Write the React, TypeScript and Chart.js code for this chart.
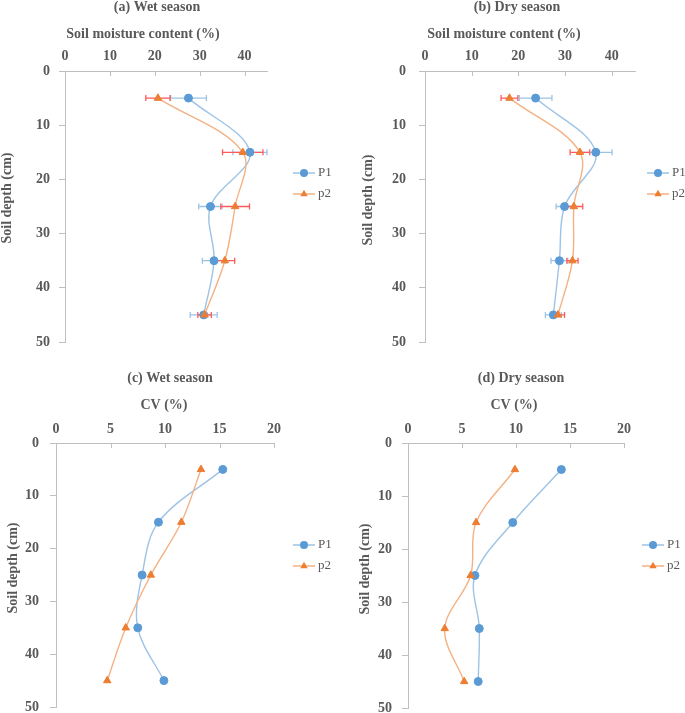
import React, { useEffect, useRef } from "react";
import { Chart, registerables } from "chart.js";
Chart.register(...registerables);

// ---------- data ----------
const depths = [5, 15, 25, 35, 45];
const seriesLabels = ["P1", "p2"];

const wetMoistureP1 = [27.5, 41.2, 32.4, 33.2, 30.9];
const wetMoistureP1Err = [4.0, 3.8, 2.6, 2.6, 3.0];
const wetMoistureP2 = [20.7, 39.6, 37.9, 35.6, 31.1];
const wetMoistureP2Err = [2.7, 4.5, 3.2, 2.2, 1.5];

const dryMoistureP1 = [23.7, 36.6, 29.9, 28.8, 27.5];
const dryMoistureP1Err = [3.5, 3.5, 1.8, 1.8, 1.7];
const dryMoistureP2 = [18.1, 33.2, 31.9, 31.6, 28.5];
const dryMoistureP2Err = [1.8, 2.1, 1.9, 1.2, 1.4];

const wetCvP1 = [15.3, 9.4, 7.9, 7.5, 9.9];
const wetCvP2 = [13.3, 11.5, 8.7, 6.4, 4.7];
const dryCvP1 = [14.2, 9.7, 6.2, 6.6, 6.5];
const dryCvP2 = [9.9, 6.3, 5.8, 3.4, 5.2];

const moistureTicks = [0, 10, 20, 30, 40];
const cvTicks = [0, 5, 10, 15, 20];
const depthTicks = [0, 10, 20, 30, 40, 50];

// ---------- styles ----------
const FONT = '"Liberation Serif", "Times New Roman", serif';
const TEXT = "#595959";
const AXIS = "#BFBFBF";
const BLUE = "#5B9BD5";
const BLUE_LINE = "#9DC3E6";
const BLUE_ERR = "#9DC3E6";
const ORANGE = "#ED7D31";
const ORANGE_LINE = "#F4B183";
const RED_ERR = "#FF5B5B";

type Series = { values: number[]; errors?: number[] };
type Panel = {
  box: { left: number; top: number; width: number; height: number };
  area: { left: number; top: number; right: number; bottom: number };
  title: string;
  titlePos: [number, number];
  xTitle: string;
  xTitlePos: [number, number];
  yTitle: string;
  yTitlePos: [number, number];
  xTicks: number[];
  xMax: number;
  xPad: number;
  yPad: number;
  legendDx: number;
  series: Series[];
};

const panels: Panel[] = [
  {
    box: { left: 0, top: 0, width: 342, height: 400 },
    area: { left: 65, top: 71, right: 267, bottom: 342 },
    title: "(a) Wet season",
    titlePos: [157, 7],
    xTitle: "Soil moisture content (%)",
    xTitlePos: [143, 34],
    yTitle: "Soil depth (cm)",
    yTitlePos: [7, 198],
    xTicks: moistureTicks,
    xMax: 45,
    xPad: 6,
    yPad: 9,
    legendDx: 26,
    series: [
      { values: wetMoistureP1, errors: wetMoistureP1Err },
      { values: wetMoistureP2, errors: wetMoistureP2Err },
    ],
  },
  {
    box: { left: 342, top: 0, width: 343, height: 400 },
    area: { left: 83, top: 71, right: 293, bottom: 342 },
    title: "(b) Dry season",
    titlePos: [175, 7],
    xTitle: "Soil moisture content (%)",
    xTitlePos: [162, 34],
    yTitle: "Soil depth (cm)",
    yTitlePos: [26, 200],
    xTicks: moistureTicks,
    xMax: 45,
    xPad: 6,
    yPad: 13,
    legendDx: 12,
    series: [
      { values: dryMoistureP1, errors: dryMoistureP1Err },
      { values: dryMoistureP2, errors: dryMoistureP2Err },
    ],
  },
  {
    box: { left: 0, top: 366, width: 342, height: 400 },
    area: { left: 56, top: 77, right: 274, bottom: 341 },
    title: "(c) Wet season",
    titlePos: [170, 12],
    xTitle: "CV (%)",
    xTitlePos: [164, 39],
    yTitle: "Soil depth (cm)",
    yTitlePos: [13, 202],
    xTicks: cvTicks,
    xMax: 20,
    xPad: 5,
    yPad: 11,
    legendDx: 19,
    series: [{ values: wetCvP1 }, { values: wetCvP2 }],
  },
  {
    box: { left: 342, top: 366, width: 343, height: 400 },
    area: { left: 66, top: 77, right: 282, bottom: 342 },
    title: "(d) Dry season",
    titlePos: [179, 12],
    xTitle: "CV (%)",
    xTitlePos: [172, 39],
    yTitle: "Soil depth (cm)",
    yTitlePos: [23, 203],
    xTicks: cvTicks,
    xMax: 20,
    xPad: 5,
    yPad: 10,
    legendDx: 18,
    series: [{ values: dryCvP1 }, { values: dryCvP2 }],
  },
];

const seriesStyle = [
  { line: BLUE_LINE, point: BLUE, err: BLUE_ERR, style: "circle", radius: 4 },
  { line: ORANGE_LINE, point: ORANGE, err: RED_ERR, style: "triangle", radius: 4.3 },
];

function drawMarker(ctx: CanvasRenderingContext2D, style: string, x: number, y: number, r: number) {
  ctx.beginPath();
  if (style === "circle") {
    ctx.arc(x, y, r, 0, Math.PI * 2);
  } else {
    let rad = 0;
    ctx.moveTo(x + Math.sin(rad) * r, y - Math.cos(rad) * r);
    rad += (2 * Math.PI) / 3;
    ctx.lineTo(x + Math.sin(rad) * r, y - Math.cos(rad) * r);
    rad += (2 * Math.PI) / 3;
    ctx.lineTo(x + Math.sin(rad) * r, y - Math.cos(rad) * r);
    ctx.closePath();
  }
  ctx.fill();
}

function PanelChart({ p }: { p: Panel }) {
  const ref = useRef<HTMLCanvasElement | null>(null);
  useEffect(() => {
    if (!ref.current) return;
    const tickFont = { family: FONT, size: 14, weight: "bold" as const };

    const errorPlugin = {
      id: "errorBars",
      beforeDatasetsDraw(chart: any) {
        const ctx = chart.ctx;
        const xs = chart.scales.x;
        const ys = chart.scales.y;
        ctx.save();
        p.series.forEach((s, i) => {
          if (!s.errors) return;
          ctx.strokeStyle = seriesStyle[i].err;
          ctx.lineWidth = 1.3;
          s.values.forEach((v, j) => {
            const e = s.errors![j];
            const y = ys.getPixelForValue(depths[j]);
            const x1 = xs.getPixelForValue(v - e);
            const x2 = xs.getPixelForValue(v + e);
            ctx.beginPath();
            ctx.moveTo(x1, y);
            ctx.lineTo(x2, y);
            ctx.moveTo(x1, y - 3);
            ctx.lineTo(x1, y + 3);
            ctx.moveTo(x2, y - 3);
            ctx.lineTo(x2, y + 3);
            ctx.stroke();
          });
        });
        ctx.restore();
      },
    };

    const decoPlugin = {
      id: "deco",
      afterDraw(chart: any) {
        const ctx = chart.ctx;
        const area = chart.chartArea;
        const xs = chart.scales.x;
        ctx.save();
        // inward tick marks on top x axis
        ctx.strokeStyle = AXIS;
        ctx.lineWidth = 1;
        p.xTicks.forEach((v) => {
          const x = Math.round(xs.getPixelForValue(v)) + 0.5;
          ctx.beginPath();
          ctx.moveTo(x, area.top);
          ctx.lineTo(x, area.top + 5);
          ctx.stroke();
        });
        // titles
        ctx.fillStyle = TEXT;
        ctx.textAlign = "center";
        ctx.textBaseline = "middle";
        ctx.font = `bold 14px ${FONT}`;
        ctx.fillText(p.title, p.titlePos[0], p.titlePos[1]);
        ctx.fillText(p.xTitle, p.xTitlePos[0], p.xTitlePos[1]);
        ctx.save();
        ctx.translate(p.yTitlePos[0], p.yTitlePos[1]);
        ctx.rotate(-Math.PI / 2);
        ctx.fillText(p.yTitle, 0, 0);
        ctx.restore();
        // legend
        chart.data.datasets.forEach((ds: any, i: number) => {
          const st = seriesStyle[i];
          const y = area.top + 102 + i * 21;
          const x0 = area.right + p.legendDx;
          ctx.strokeStyle = st.line;
          ctx.lineWidth = 1.5;
          ctx.beginPath();
          ctx.moveTo(x0, y);
          ctx.lineTo(x0 + 22, y);
          ctx.stroke();
          ctx.fillStyle = st.point;
          drawMarker(ctx, st.style, x0 + 11, y, st.radius);
          ctx.fillStyle = TEXT;
          ctx.textAlign = "left";
          ctx.font = `13px ${FONT}`;
          ctx.fillText(ds.label, x0 + 25, y);
        });
        ctx.restore();
      },
    };

    const chart = new Chart(ref.current, {
      type: "line",
      data: {
        datasets: p.series.map((s, i) => ({
          label: seriesLabels[i],
          data: s.values.map((v, j) => ({ x: v, y: depths[j] })),
          borderColor: seriesStyle[i].line,
          backgroundColor: seriesStyle[i].point,
          borderWidth: 1.4,
          tension: 0.35,
          pointStyle: seriesStyle[i].style as any,
          pointRadius: seriesStyle[i].radius,
          pointBackgroundColor: seriesStyle[i].point,
          pointBorderColor: seriesStyle[i].point,
          pointBorderWidth: 1,
          fill: false,
          order: i === 0 ? 1 : 0,
        })),
      },
      options: {
        animation: false,
        responsive: false,
        maintainAspectRatio: false,
        events: [],
        layout: {
          padding: {
            left: 0,
            top: 0,
            right: p.box.width - p.area.right,
            bottom: p.box.height - p.area.bottom,
          },
        },
        plugins: {
          legend: { display: false },
          title: { display: false },
          tooltip: { enabled: false },
        },
        scales: {
          x: {
            type: "linear",
            position: "top",
            min: 0,
            max: p.xMax,
            afterFit: (s: any) => {
              s.height = p.area.top;
            },
            afterBuildTicks: (s: any) => {
              s.ticks = p.xTicks.map((v) => ({ value: v }));
            },
            grid: { display: false, drawTicks: false, tickLength: 0 },
            border: { display: true, color: AXIS, width: 1 },
            ticks: { color: TEXT, font: tickFont, padding: p.xPad, maxRotation: 0 },
          },
          y: {
            type: "linear",
            reverse: true,
            min: 0,
            max: 50,
            afterFit: (s: any) => {
              s.width = p.area.left;
            },
            afterBuildTicks: (s: any) => {
              s.ticks = depthTicks.map((v) => ({ value: v }));
            },
            grid: { display: true, drawOnChartArea: false, drawTicks: true, tickLength: 6, color: AXIS },
            border: { display: true, color: AXIS, width: 1 },
            ticks: { color: TEXT, font: tickFont, padding: p.yPad },
          },
        },
      },
      plugins: [errorPlugin, decoPlugin],
    } as any);
    return () => chart.destroy();
  }, [p]);

  return (
    <canvas
      ref={ref}
      width={p.box.width}
      height={p.box.height}
      style={{
        position: "absolute",
        left: p.box.left,
        top: p.box.top,
        width: p.box.width,
        height: p.box.height,
        display: "block",
      }}
    />
  );
}

export default function App() {
  return (
    <div
      style={{
        position: "absolute",
        left: 0,
        top: 0,
        width: 685,
        height: 713,
        overflow: "hidden",
        background: "#ffffff",
      }}
    >
      {panels.map((p, i) => (
        <PanelChart key={i} p={p} />
      ))}
    </div>
  );
}
